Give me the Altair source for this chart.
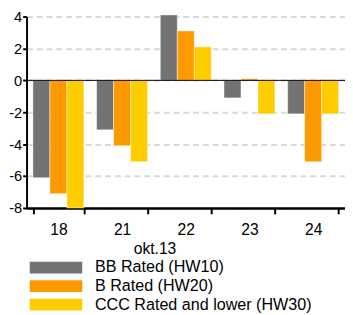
import altair as alt
import pandas as pd

categories = ["18", "21", "22", "23", "24"]
series = ["BB Rated (HW10)", "B Rated (HW20)", "CCC Rated and lower (HW30)"]
bb_values = [-6.1, -3.1, 4.1, -1.1, -2.1]
b_values = [-7.1, -4.1, 3.1, 0.1, -5.1]
ccc_values = [-8.0, -5.1, 2.1, -2.1, -2.1]
colors = ["#737373", "#FF9900", "#FFCC00"]
y_ticks = [-8, -6, -4, -2, 0, 2, 4]
x_title = "okt.13"

rows = []
for s, vals in zip(series, [bb_values, b_values, ccc_values]):
    for c, v in zip(categories, vals):
        rows.append({"date": c, "series": s, "value": v})
df = pd.DataFrame(rows)

FONT = "Liberation Sans"

y_axis = alt.Axis(
    title=None,
    values=y_ticks,
    labelExpr="datum.value < 0 ? '-' + abs(datum.value) : '' + datum.value",
    labelOverlap=False,
    tickSize=4,
    tickWidth=2,
    tickColor="black",
    domainColor="black",
    domainWidth=2,
    labelPadding=1,
    labelFont=FONT,
    labelFontSize=15,
    labelColor="black",
    grid=True,
    gridColor="#d9d9d9",
    gridWidth=2,
    gridDash=[6, 4],
)
y_scale = alt.Scale(domain=[-8, 4], nice=False, zero=False)

bars = alt.Chart(df).mark_bar(stroke="#ffffff", strokeOpacity=0.45, strokeWidth=1).encode(
    x=alt.X(
        "date:N",
        sort=categories,
        scale=alt.Scale(paddingInner=0.2, paddingOuter=0.1),
        axis=alt.Axis(
            title=x_title,
            labelAngle=0,
            tickBand="extent",
            tickSize=6,
            tickWidth=2,
            tickColor="black",
            domainColor="black",
            domainWidth=2.5,
            labelPadding=8,
            labelFont=FONT,
            labelFontSize=16,
            labelColor="black",
            labelOverlap=False,
            titleFont=FONT,
            titleFontSize=16,
            titleFontWeight="normal",
            titleColor="black",
            titleX=131,
            titleY=47,
            titleAlign="center",
            titleBaseline="alphabetic",
        ),
    ),
    xOffset=alt.XOffset("series:N", sort=series),
    y=alt.Y("value:Q", scale=y_scale, axis=y_axis),
    color=alt.Color(
        "series:N",
        sort=series,
        scale=alt.Scale(domain=series, range=colors),
        legend=alt.Legend(
            title=None,
            orient="none",
            legendX=3,
            legendY=249,
            direction="vertical",
            symbolType="M-1,-0.2222H1V0.2222H-1Z",
            symbolSize=2916,
            symbolStrokeWidth=0,
            symbolOpacity=1,
            clipHeight=16,
            rowPadding=2,
            labelOffset=13,
            labelFont=FONT,
            labelFontSize=16.5,
            labelColor="black",
            padding=0,
            symbolOffset=0,
            labelLimit=400,
        ),
    ),
)

zero = alt.Chart(pd.DataFrame({"value": [0]})).mark_rule(color="black", strokeWidth=1).encode(
    y=alt.Y("value:Q", scale=y_scale, axis=y_axis)
)

chart = alt.layer(bars, zero).properties(
    width=326,
    height=196,
    autosize=alt.AutoSizeParams(type="none"),
    padding={"left": 19, "top": 5, "right": 0, "bottom": 115},
).configure_view(stroke=None)

chart.save("out.html", embed_options={"renderer": "svg", "actions": False})
